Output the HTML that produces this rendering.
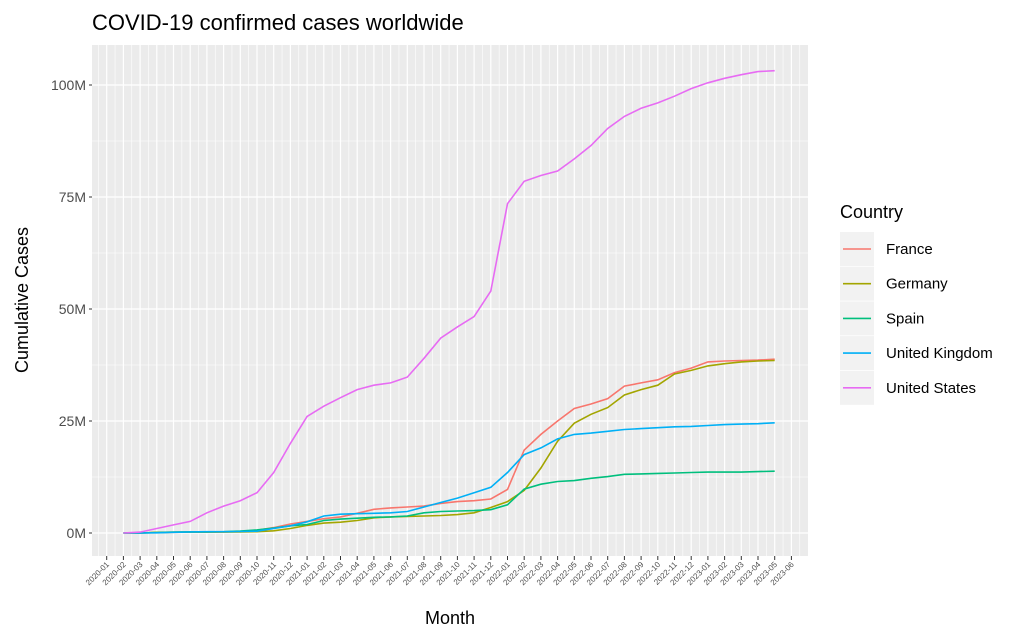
<!DOCTYPE html>
<html><head><meta charset="utf-8"><style>
body{margin:0;background:#fff;font-family:"Liberation Sans",Arial,sans-serif}
</style></head><body>
<svg id="chart" width="1035" height="639" xmlns="http://www.w3.org/2000/svg" font-family="Liberation Sans, Arial, sans-serif"></svg>
<script>
const months = [];
for (let y = 2020; y <= 2023; y++) for (let m = 1; m <= 12; m++) { if (y === 2023 && m > 6) break; months.push(y + '-' + String(m).padStart(2, '0')); }
const yTicks = [0, 25, 50, 75, 100];
const yTickLabels = ['0M', '25M', '50M', '75M', '100M'];
const countries = ['France', 'Germany', 'Spain', 'United Kingdom', 'United States'];
const colors = ['#F8766D', '#A3A500', '#00BF7D', '#00B0F6', '#E76BF3'];
// values in millions, starting at 2020-02 (index 1) through 2023-05
const franceVals = [0,0,0.1,0.15,0.2,0.2,0.25,0.35,0.6,1.2,2.0,2.6,3.2,3.6,4.4,5.3,5.6,5.8,6.0,6.6,7.0,7.2,7.6,9.7,18.5,22,25,27.8,28.8,30,32.8,33.5,34.2,35.8,36.8,38.2,38.4,38.5,38.6,38.8];
const germanyVals = [0,0,0.15,0.18,0.19,0.2,0.21,0.24,0.3,0.5,1.0,1.7,2.2,2.4,2.8,3.4,3.6,3.7,3.8,3.9,4.1,4.5,5.7,7.0,9.5,14.5,20.5,24.5,26.5,28,30.8,32,33,35.5,36.3,37.3,37.8,38.2,38.4,38.5];
const spainVals = [0,0,0.1,0.2,0.24,0.25,0.28,0.45,0.7,1.1,1.6,1.9,2.8,3.1,3.3,3.5,3.6,3.8,4.5,4.8,4.9,5.0,5.2,6.3,9.8,10.9,11.5,11.7,12.2,12.6,13.1,13.2,13.3,13.4,13.5,13.6,13.6,13.6,13.7,13.8];
const ukVals = [0,0,0.05,0.15,0.25,0.28,0.3,0.33,0.4,1.0,1.6,2.5,3.8,4.2,4.3,4.4,4.5,4.8,5.8,6.8,7.8,9.0,10.2,13.5,17.5,19,21,22,22.3,22.7,23.1,23.3,23.5,23.7,23.8,24.0,24.2,24.3,24.4,24.6];
const usVals = [0,0.2,1.0,1.8,2.6,4.5,6.0,7.2,9.0,13.5,20,26,28.3,30.2,32,33,33.5,34.8,39,43.5,46,48.3,54,73.5,78.5,79.8,80.8,83.5,86.5,90.3,93,94.8,96,97.5,99.2,100.5,101.5,102.3,103,103.2];
const series = [franceVals, germanyVals, spainVals, ukVals, usVals];
const startIndex = 1;

const NS = 'http://www.w3.org/2000/svg';
const svg = document.getElementById('chart');
function mk(tag, attrs, parent) { const e = document.createElementNS(NS, tag); for (const k in attrs) e.setAttribute(k, attrs[k]); (parent || svg).appendChild(e); return e; }
const PL = 92, PR = 808, PT = 45, PB = 556;
const x = i => 106.7 + i * 16.7;
const y = v => 533 - v * 4.48;

const panel = mk('rect', {x: PL, y: PT, width: PR - PL, height: PB - PT, fill: '#EBEBEB'});


for (let i = 0; i < yTicks.length - 1; i++) { const v = (yTicks[i] + yTicks[i + 1]) / 2; mk('line', {x1: PL, x2: PR, y1: y(v), y2: y(v), stroke: '#fff', 'stroke-width': 0.6}); }
mk('line', {x1: PL, x2: PR, y1: y(112.5), y2: y(112.5), stroke: '#fff', 'stroke-width': 0.6});
for (let i = -1; i < months.length; i++) { const xv = x(i + 0.5); if (xv > PL && xv < PR) mk('line', {x1: xv, x2: xv, y1: PT, y2: PB, stroke: '#fff', 'stroke-width': 0.6}); }
yTicks.forEach(v => mk('line', {x1: PL, x2: PR, y1: y(v), y2: y(v), stroke: '#fff', 'stroke-width': 1.2}));
months.forEach((m, i) => mk('line', {x1: x(i), x2: x(i), y1: PT, y2: PB, stroke: '#fff', 'stroke-width': 1.2}));
yTicks.forEach((v, i) => {
  mk('line', {x1: PL - 3, x2: PL, y1: y(v), y2: y(v), stroke: '#333', 'stroke-width': 1});
  const t = mk('text', {x: PL - 6, y: y(v) + 5, 'text-anchor': 'end', 'font-size': 14, fill: '#4D4D4D'});
  t.textContent = yTickLabels[i];
  
  
});
months.forEach((m, i) => {
  mk('line', {x1: x(i), x2: x(i), y1: PB, y2: PB + 4, stroke: '#333', 'stroke-width': 1});
  const t = mk('text', {x: x(i) + 3, y: PB + 9, 'text-anchor': 'end', 'font-size': 8, fill: '#4D4D4D', transform: `rotate(-45 ${x(i) + 3} ${PB + 9})`});
  t.textContent = m;
  
  
});
series.forEach((vals, s) => {
  const d = vals.map((v, k) => (k ? 'L' : 'M') + x(k + startIndex).toFixed(1) + ',' + y(v).toFixed(1)).join('');
  const p = mk('path', {d, fill: 'none', stroke: colors[s], 'stroke-width': 1.6});
  
  
});
const title = mk('text', {x: 92, y: 30, 'font-size': 22, fill: '#000'}); title.textContent = 'COVID-19 confirmed cases worldwide';


const xt = mk('text', {x: 450, y: 624, 'text-anchor': 'middle', 'font-size': 18, fill: '#000'}); xt.textContent = 'Month';


const yt = mk('text', {x: 28, y: 300, 'text-anchor': 'middle', 'font-size': 18, fill: '#000', transform: 'rotate(-90 28 300)'}); yt.textContent = 'Cumulative Cases';


const lt = mk('text', {x: 840, y: 218, 'font-size': 18, fill: '#000'}); lt.textContent = 'Country';


countries.forEach((c, i) => {
  const cy = 249 + i * 34.7;
  const g = mk('g', {});
  
  
  mk('rect', {x: 840, y: cy - 17, width: 34, height: 34, fill: '#F2F2F2'}, g);
  mk('line', {x1: 843, x2: 871, y1: cy, y2: cy, stroke: colors[i], 'stroke-width': 1.6}, g);
  const t = mk('text', {x: 886, y: cy + 5, 'font-size': 15, fill: '#000'}, g); t.textContent = c;
});
</script>
</body></html>
